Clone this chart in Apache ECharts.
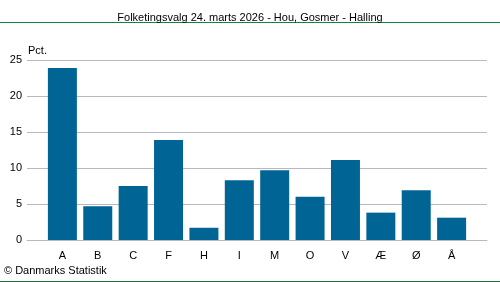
<!DOCTYPE html>
<html><head><meta charset="utf-8">
<script src="https://cdn.jsdelivr.net/npm/echarts@6/dist/echarts.min.js"></script>
<style>html,body{margin:0;padding:0;background:#fff}#c{width:500px;height:282px}</style>
</head><body><div id="c"></div>
<script>
const categories = ['A','B','C','F','H','I','M','O','V','Æ','Ø','Å'];
const values = [23.9, 4.7, 7.5, 13.9, 1.7, 8.3, 9.7, 6.0, 11.1, 3.8, 6.9, 3.1];
const yTicks = [0, 5, 10, 15, 20, 25];
const titleText = 'Folketingsvalg 24. marts 2026 - Hou, Gosmer - Halling';

const chart = echarts.init(document.getElementById('c'), null, {renderer:'canvas'});
const font = 'Liberation Sans, Arial, sans-serif';
chart.setOption({
  animation:false,
  title:{text:titleText, left:'center', top:7, textStyle:{fontFamily:font, fontSize:11, fontWeight:'normal', color:'#000'}},
  graphic:[
    {type:'line', shape:{x1:0,y1:22.5,x2:500,y2:22.5}, style:{stroke:'#1a8040', lineWidth:1}},
    {type:'line', shape:{x1:0,y1:281.5,x2:500,y2:281.5}, style:{stroke:'#1a6e3c', lineWidth:1}},
    {type:'text', left:4, top:265, style:{text:'© Danmarks Statistik', fontFamily:font, fontSize:11, fill:'#000'}},
    {type:'text', left:28, top:45, style:{text:'Pct.', fontFamily:font, fontSize:11, fill:'#000'}}
  ],
  grid:{left:27, right:13, top:60, bottom:42},
  xAxis:{type:'value', min:-1, max:categories.length, interval:1,
    axisLine:{show:true, lineStyle:{color:'#b8b8c4'}}, axisTick:{show:false}, splitLine:{show:false},
    axisLabel:{margin:10, fontFamily:font, fontSize:11, color:'#000',
      formatter:v=> (v>=0 && v<categories.length) ? categories[v] : ''}},
  yAxis:{type:'value', min:0, max:25, interval:5,
    axisLine:{show:false}, axisTick:{show:false},
    splitLine:{lineStyle:{color:'#b8b8c4'}},
    axisLabel:{margin:5, fontFamily:font, fontSize:11, color:'#000', formatter:v=>yTicks.includes(v)?String(v):''}},
  series:[{type:'bar', barWidth:29, itemStyle:{color:'#006495'},
    data: values.map((v,i)=>[i,v])}]
});
</script></body></html>
